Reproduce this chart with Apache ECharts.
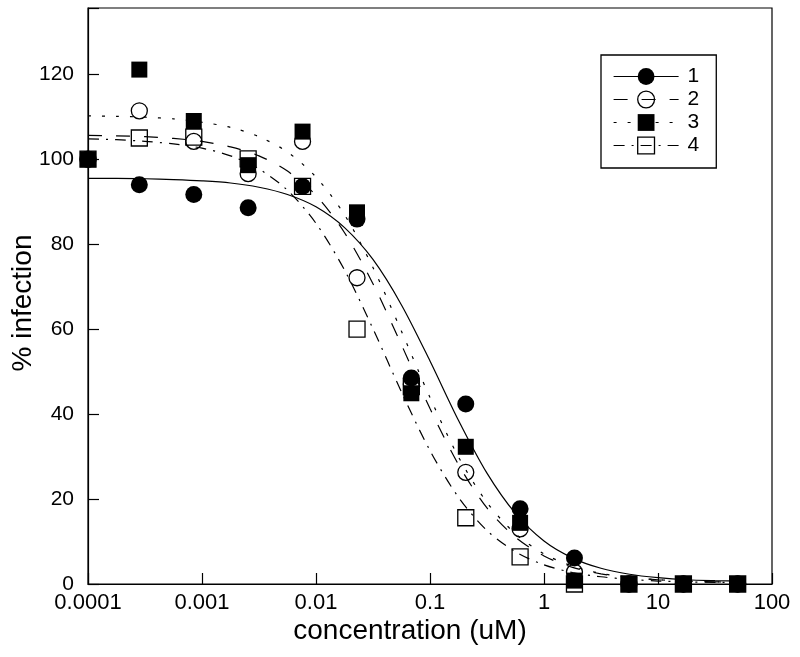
<!DOCTYPE html>
<html>
<head>
<meta charset="utf-8">
<script src="https://cdn.jsdelivr.net/npm/echarts@6/dist/echarts.min.js"></script>
<style>html,body{margin:0;padding:0;background:#fff}#c{width:800px;height:657px}</style>
</head>
<body>
<div id="c"></div>
<script>
// concentrations of the measured points (uM)
const conc = [0.0001, 0.000282, 0.000847, 0.00254, 0.00762, 0.0229, 0.0686, 0.206, 0.617, 1.85, 5.56, 16.7, 50];
// % infection for each series
const series1 = [100, 94.0, 91.7, 88.6, 93.6, 85.9, 48.5, 42.4, 17.7, 6.1, 0, 0, 0];
const series2 = [100, 111.4, 104.2, 96.6, 104.2, 72.1, 47.0, 26.3, 13.0, 2.8, 0, 0, 0];
const series3 = [100, 121.1, 109.0, 98.6, 106.5, 87.5, 44.9, 32.3, 14.4, 0.8, 0, 0, 0];
const series4 = [100, 105.0, 105.2, 100.1, 93.6, 60.0, 46.5, 15.6, 6.4, 0, 0, 0, 0];

// fitted curves (quarter-decade steps)
const curveX = [0.0001, 0.000178, 0.000316, 0.000562, 0.001, 0.00178, 0.00316, 0.00562, 0.01, 0.0178, 0.0316, 0.0562,
                0.1, 0.178, 0.316, 0.562, 1, 1.78, 3.16, 5.62, 10, 17.8, 31.6, 56.2];
const curve1 = [95.5, 95.5, 95.4, 95.2, 94.9, 94.4, 93.4, 91.7, 88.8, 83.9, 76.4, 65.7,
                52.5, 38.5, 26.1, 16.6, 10.1, 6.1, 3.7, 2.3, 1.5, 1.0, 0.8, 0.7];
const curve2 = [105.6, 105.5, 105.3, 104.9, 104.2, 102.9, 100.8, 97.2, 91.5, 82.7, 70.7, 56.3,
                41.3, 28.1, 17.9, 11.0, 6.6, 3.9, 2.4, 1.5, 1.0, 0.7, 0.5, 0.4];
const curve3 = [110.2, 110.1, 109.9, 109.5, 108.7, 107.5, 105.3, 101.7, 95.8, 86.9, 74.5, 59.5,
                43.9, 29.9, 19.2, 11.8, 7.1, 4.2, 2.5, 1.6, 1.0, 0.7, 0.5, 0.4];
const curve4 = [104.8, 104.6, 104.2, 103.6, 102.6, 100.8, 97.7, 92.7, 84.9, 73.9, 60.1, 45.2,
                31.4, 20.4, 12.6, 7.6, 4.5, 2.7, 1.7, 1.1, 0.7, 0.5, 0.4, 0.4];

const xTickLabels = ['0.0001', '0.001', '0.01', '0.1', '1', '10', '100'];
const legendNames = ['1', '2', '3', '4'];

const FONT = '"Liberation Sans", Arial, Helvetica, sans-serif';
const pair = (xs, ys) => xs.map((x, i) => [x, ys[i]]);
const dashes = ['solid', [14, 14], [3, 11], [11, 7, 2, 7]];
const symbols = ['circle', 'circle', 'rect', 'rect'];
const filled = [true, false, true, false];
const sizes = [17, 16, 16, 16];
const curves = [curve1, curve2, curve3, curve4];
const points = [series1, series2, series3, series4];
const markStyle = i => filled[i]
  ? { color: '#000', borderWidth: 0, opacity: 1 }
  : { color: 'rgba(0,0,0,0)', borderColor: '#000', borderWidth: 1.3, opacity: 1 };

const lineSeries = curves.map((c, i) => ({
  name: legendNames[i], type: 'line', data: pair(curveX, c),
  smooth: 0.3, showSymbol: false,
  symbol: symbols[i], symbolSize: sizes[i],
  lineStyle: { color: '#000', width: 1.2, type: dashes[i], opacity: 1 },
  itemStyle: markStyle(i), silent: true, z: 2, animation: false
}));
const drawOrder = [3, 1, 0, 2];
const scatterSeries = drawOrder.map((i, k) => ({
  name: 'pts' + legendNames[i], type: 'scatter', data: pair(conc, points[i]),
  symbol: symbols[i], symbolSize: sizes[i], itemStyle: markStyle(i),
  clip: false, z: 3 + k, silent: true, animation: false
}));

const chart = echarts.init(document.getElementById('c'), null, { renderer: 'canvas' });
chart.setOption({
  backgroundColor: '#fff',
  animation: false,
  grid: { left: 88, right: 28, top: 8, bottom: 73, show: true, borderColor: '#000', borderWidth: 1.2,
          backgroundColor: 'transparent', containLabel: false, outerBoundsMode: 'none' },
  legend: {
    data: legendNames.map((n, i) => ({ name: n, itemStyle: markStyle(i),
      lineStyle: { color: '#000', width: 1.2, type: dashes[i] } })),
    orient: 'vertical', left: 601, top: 55, itemWidth: 65, itemHeight: 21, itemGap: 2,
    padding: [11, 17, 12, 12], borderColor: '#000', borderWidth: 1.3, backgroundColor: '#fff',
    textStyle: { fontFamily: FONT, fontSize: 21, color: '#000', padding: [0, 0, 0, 4], lineHeight: 21 },
    selectedMode: false
  },
  xAxis: {
    type: 'log', logBase: 10, min: 0.0001, max: 100,
    name: 'concentration (uM)', nameLocation: 'middle', nameGap: 33, nameMoveOverlap: false,
    nameTextStyle: { fontFamily: FONT, fontSize: 28, color: '#000', padding: [0, 40, 0, 0] },
    axisLine: { show: true, lineStyle: { color: '#000', width: 1.2 } },
    axisTick: { show: true, inside: true, length: 11, lineStyle: { color: '#000', width: 1.2 } },
    minorTick: { show: false }, splitLine: { show: false },
    axisLabel: { fontFamily: FONT, fontSize: 22, color: '#000', margin: 8,
      formatter: v => xTickLabels[Math.round(Math.log10(v)) + 4] }
  },
  yAxis: {
    type: 'value', min: 0, max: 135.6, interval: 20,
    name: '% infection', nameLocation: 'middle', nameGap: 51, nameMoveOverlap: false,
    nameTextStyle: { fontFamily: FONT, fontSize: 28, color: '#000', padding: [0, 14, 0, 0] },
    axisLine: { show: true, lineStyle: { color: '#000', width: 1.2 } },
    axisTick: { show: true, inside: true, length: 11, lineStyle: { color: '#000', width: 1.2 } },
    splitLine: { show: false },
    axisLabel: { fontFamily: FONT, fontSize: 21, color: '#000', margin: 14,
      formatter: v => (Math.abs(v % 20) < 1e-6 ? String(Math.round(v)) : '') }
  },
  series: lineSeries.concat(scatterSeries)
});
</script>
</body>
</html>
